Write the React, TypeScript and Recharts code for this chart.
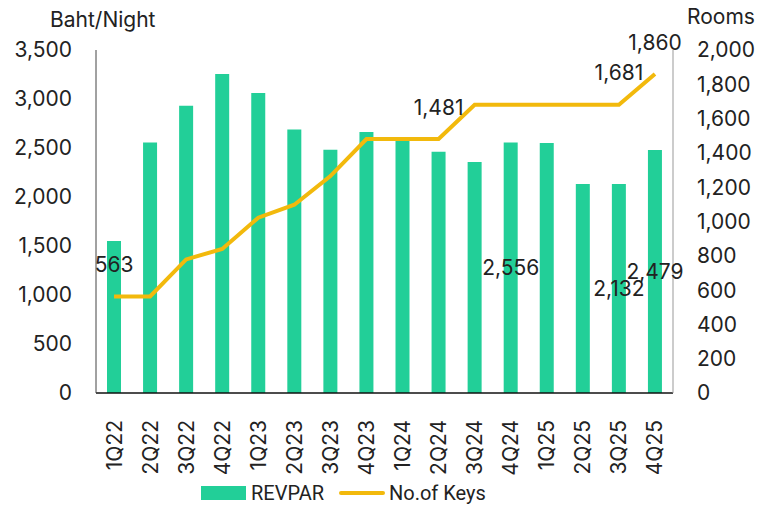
import { ComposedChart, Bar, Line, XAxis, YAxis, Legend, LabelList } from 'recharts'

const quarters = ['1Q22', '2Q22', '3Q22', '4Q22', '1Q23', '2Q23', '3Q23', '4Q23', '1Q24', '2Q24', '3Q24', '4Q24', '1Q25', '2Q25', '3Q25', '4Q25']
const revpar = [1550, 2556, 2930, 3255, 3060, 2690, 2483, 2663, 2580, 2462, 2357, 2556, 2550, 2132, 2132, 2479]
const keys = [563, 563, 779, 840, 1022, 1098, 1265, 1481, 1481, 1481, 1681, 1681, 1681, 1681, 1681, 1860]
const leftTicks = [0, 500, 1000, 1500, 2000, 2500, 3000, 3500]
const rightTicks = [0, 200, 400, 600, 800, 1000, 1200, 1400, 1600, 1800, 2000]
// only some points carry a value label in the original
const revparLabelIdx = [11, 14, 15]
const keysLabelIdx = [0, 9, 14, 15]

const GREEN = '#22CF98'
const GOLD = '#F2B90C'
const FONT = 'Inter, "Noto Sans", sans-serif'
const FS = 21
const fmt = (v: number) => v.toLocaleString('en-US')

const data = quarters.map((q, i) => ({ q, revpar: revpar[i], keys: keys[i] }))

function QuarterTick({ x, y, payload }: any) {
  return (
    <text
      transform={`translate(${x},${y + 19}) rotate(-90)`}
      textAnchor="end"
      dominantBaseline="central"
      fontSize={FS}
      fontFamily={FONT}
      fill="#222"
    >
      {payload.value}
    </text>
  )
}

function BarValue({ x, y, width, height, index, value }: any) {
  if (!revparLabelIdx.includes(index)) return null
  return (
    <text x={x + width / 2} y={y + height / 2} textAnchor="middle" dominantBaseline="central" fontSize={FS} fontFamily={FONT} fill="#222">
      {fmt(value)}
    </text>
  )
}

function KeysValue({ x, y, index, value }: any) {
  if (!keysLabelIdx.includes(index)) return null
  return (
    <text x={x} y={y - 32} textAnchor="middle" dominantBaseline="central" fontSize={FS} fontFamily={FONT} fill="#222">
      {fmt(value)}
    </text>
  )
}

function LegendBox() {
  const txt = { position: 'absolute' as const, top: 5, lineHeight: '28px', fontFamily: 'Roboto, sans-serif', fontSize: 20 }
  return (
    <div style={{ height: 32, position: 'relative', color: '#222' }}>
      <div style={{ position: 'absolute', left: 201, top: 12, width: 45, height: 14, background: GREEN }} />
      <div style={{ ...txt, left: 251 }}>REVPAR</div>
      <div style={{ position: 'absolute', left: 339, top: 17, width: 46, height: 4, borderRadius: 2, background: GOLD }} />
      <div style={{ ...txt, left: 389 }}>No.of Keys</div>
    </div>
  )
}

export default function App() {
  return (
    <div style={{ position: 'absolute', left: 0, top: 0, background: '#fff' }}>
      <ComposedChart width={765} height={506} data={data} margin={{ top: 50, right: 0, bottom: 0, left: 0 }}>
        <XAxis
          dataKey="q"
          interval={0}
          height={81}
          tick={<QuarterTick />}
          tickLine={false}
          axisLine={{ stroke: '#111', strokeWidth: 1.5 }}
        />
        <YAxis
          yAxisId="left"
          width={96}
          domain={[0, 3500]}
          ticks={leftTicks}
          tickFormatter={fmt}
          tickLine={false}
          tickSize={0}
          tickMargin={24}
          axisLine={{ stroke: '#444' }}
          tick={{ fontSize: FS, fontFamily: FONT, fill: '#222' }}
          label={{
            content: ({ viewBox }: any) => (
              <text x={viewBox.x + 50} y={viewBox.y - 23} fontSize={FS} fontFamily={FONT} fill="#222">
                Baht/Night
              </text>
            ),
          }}
        />
        <YAxis
          yAxisId="right"
          orientation="right"
          width={92}
          domain={[0, 2000]}
          ticks={rightTicks}
          tickFormatter={fmt}
          tickLine={false}
          tickSize={0}
          tickMargin={24}
          axisLine={{ stroke: '#999' }}
          tick={{ fontSize: FS, fontFamily: FONT, fill: '#222' }}
          label={{
            content: ({ viewBox }: any) => (
              <text x={viewBox.x + 14} y={viewBox.y - 26} fontSize={FS} fontFamily={FONT} fill="#222">
                Rooms
              </text>
            ),
          }}
        />
        <Legend verticalAlign="bottom" content={<LegendBox />} />
        <Bar yAxisId="left" dataKey="revpar" name="REVPAR" fill={GREEN} barSize={14} isAnimationActive={false}>
          <LabelList dataKey="revpar" content={<BarValue />} />
        </Bar>
        <Line
          yAxisId="right"
          dataKey="keys"
          name="No.of Keys"
          stroke={GOLD}
          strokeWidth={4}
          dot={false}
          isAnimationActive={false}
        >
          <LabelList dataKey="keys" content={<KeysValue />} />
        </Line>
      </ComposedChart>
    </div>
  )
}
